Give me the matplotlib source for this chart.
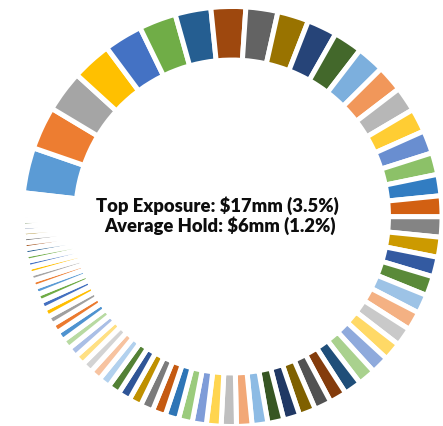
import matplotlib

matplotlib.use("Agg")

import matplotlib.pyplot as plt

# exposure per position, $mm, largest first (clockwise from ~9 o'clock)
exposures = [
    17.0, 16.1, 15.5, 14.9, 14.4, 13.9, 13.4, 13.0,
    12.0, 11.7, 11.2, 10.8, 10.4, 9.9, 9.3, 8.9, 8.6, 8.2, 8.0,
    7.8,
    7.6, 7.5, 7.4, 7.3, 7.1, 7.0, 6.9, 6.8, 6.7, 6.6, 6.5, 6.4, 6.3, 6.2, 6.1, 6.0, 5.9, 5.8,
    5.7,
    5.5, 5.3, 5.2, 5.1, 5.0, 4.8, 4.7, 4.6, 4.5, 4.3, 4.2, 4.1, 3.9, 3.8, 3.7, 3.6, 3.4, 3.3,
    3.2, 3.1, 2.9,
    2.8,
    2.6, 2.6, 2.5, 2.4, 2.4, 2.3, 2.2, 2.2, 2.1, 2.0, 2.0,
    1.9,
    1.8, 1.6, 1.4, 1.2, 0.9, 0.7, 0.5, 0.3,
]
label_top = "Top Exposure: $17mm (3.5%)"
label_avg = "Average Hold: $6mm (1.2%)"

# Excel-style varied colours by point
PALETTE = [
    "#5B9BD5", "#ED7D31", "#A5A5A5", "#FFC000", "#4472C4", "#70AD47",
    "#255E91", "#9E480E", "#636363", "#997300", "#264478", "#43682B",
    "#7CAFDD", "#F1975A", "#B7B7B7", "#FFCD33", "#698ED0", "#8CC168",
    "#327DC2", "#D26012", "#848484", "#CC9A00", "#335AA1", "#5A8A39",
    "#9DC3E6", "#F4B183", "#C9C9C9", "#FFD966", "#8FAADC", "#A9D18E",
    "#1F4E79", "#843C0C", "#525252", "#7F6000", "#203864", "#375623",
    "#8DBBE4", "#F2A877", "#BFBFBF", "#FFD54F", "#7E9CD8", "#9BCB7C",
    "#2E75B6", "#C55A11", "#7B7B7B", "#BF9000", "#2F5597", "#538135",
    "#B2D1EE", "#F7C3A0", "#D3D3D3", "#FFE083", "#AABFE6", "#B8DAA2",
    "#4F93D0", "#EB7A2F", "#A0A0A0", "#FFBE00", "#4470C0", "#6FAB45",
]
colors = (PALETTE * 2)[: len(exposures)]

W, H = 443, 427
CX, CY, R = 232, 217.5, 210  # pie centre / radius in pixels

fig = plt.figure(figsize=(W / 100, H / 100), dpi=100)
ax = fig.add_axes([(CX - R) / W, (H - CY - R) / H, 2 * R / W, 2 * R / H])
ax.pie(
    exposures,
    colors=colors,
    startangle=173.5,
    counterclock=False,
    radius=1.0,
    wedgeprops={"width": 0.255, "edgecolor": "white", "linewidth": 3.6},
)
ax.set_xlim(-1, 1)
ax.set_ylim(-1, 1)
ax.axis("off")

text_style = {"ha": "center", "va": "baseline", "fontsize": 13.2,
              "fontweight": "heavy", "family": "Lato", "color": "#0d0d0d"}
fig.text(217 / W, 1 - 212 / H, label_top, **text_style)
fig.text(220 / W, 1 - 232 / H, label_avg, **text_style)

fig.savefig("out.png", dpi=100)
